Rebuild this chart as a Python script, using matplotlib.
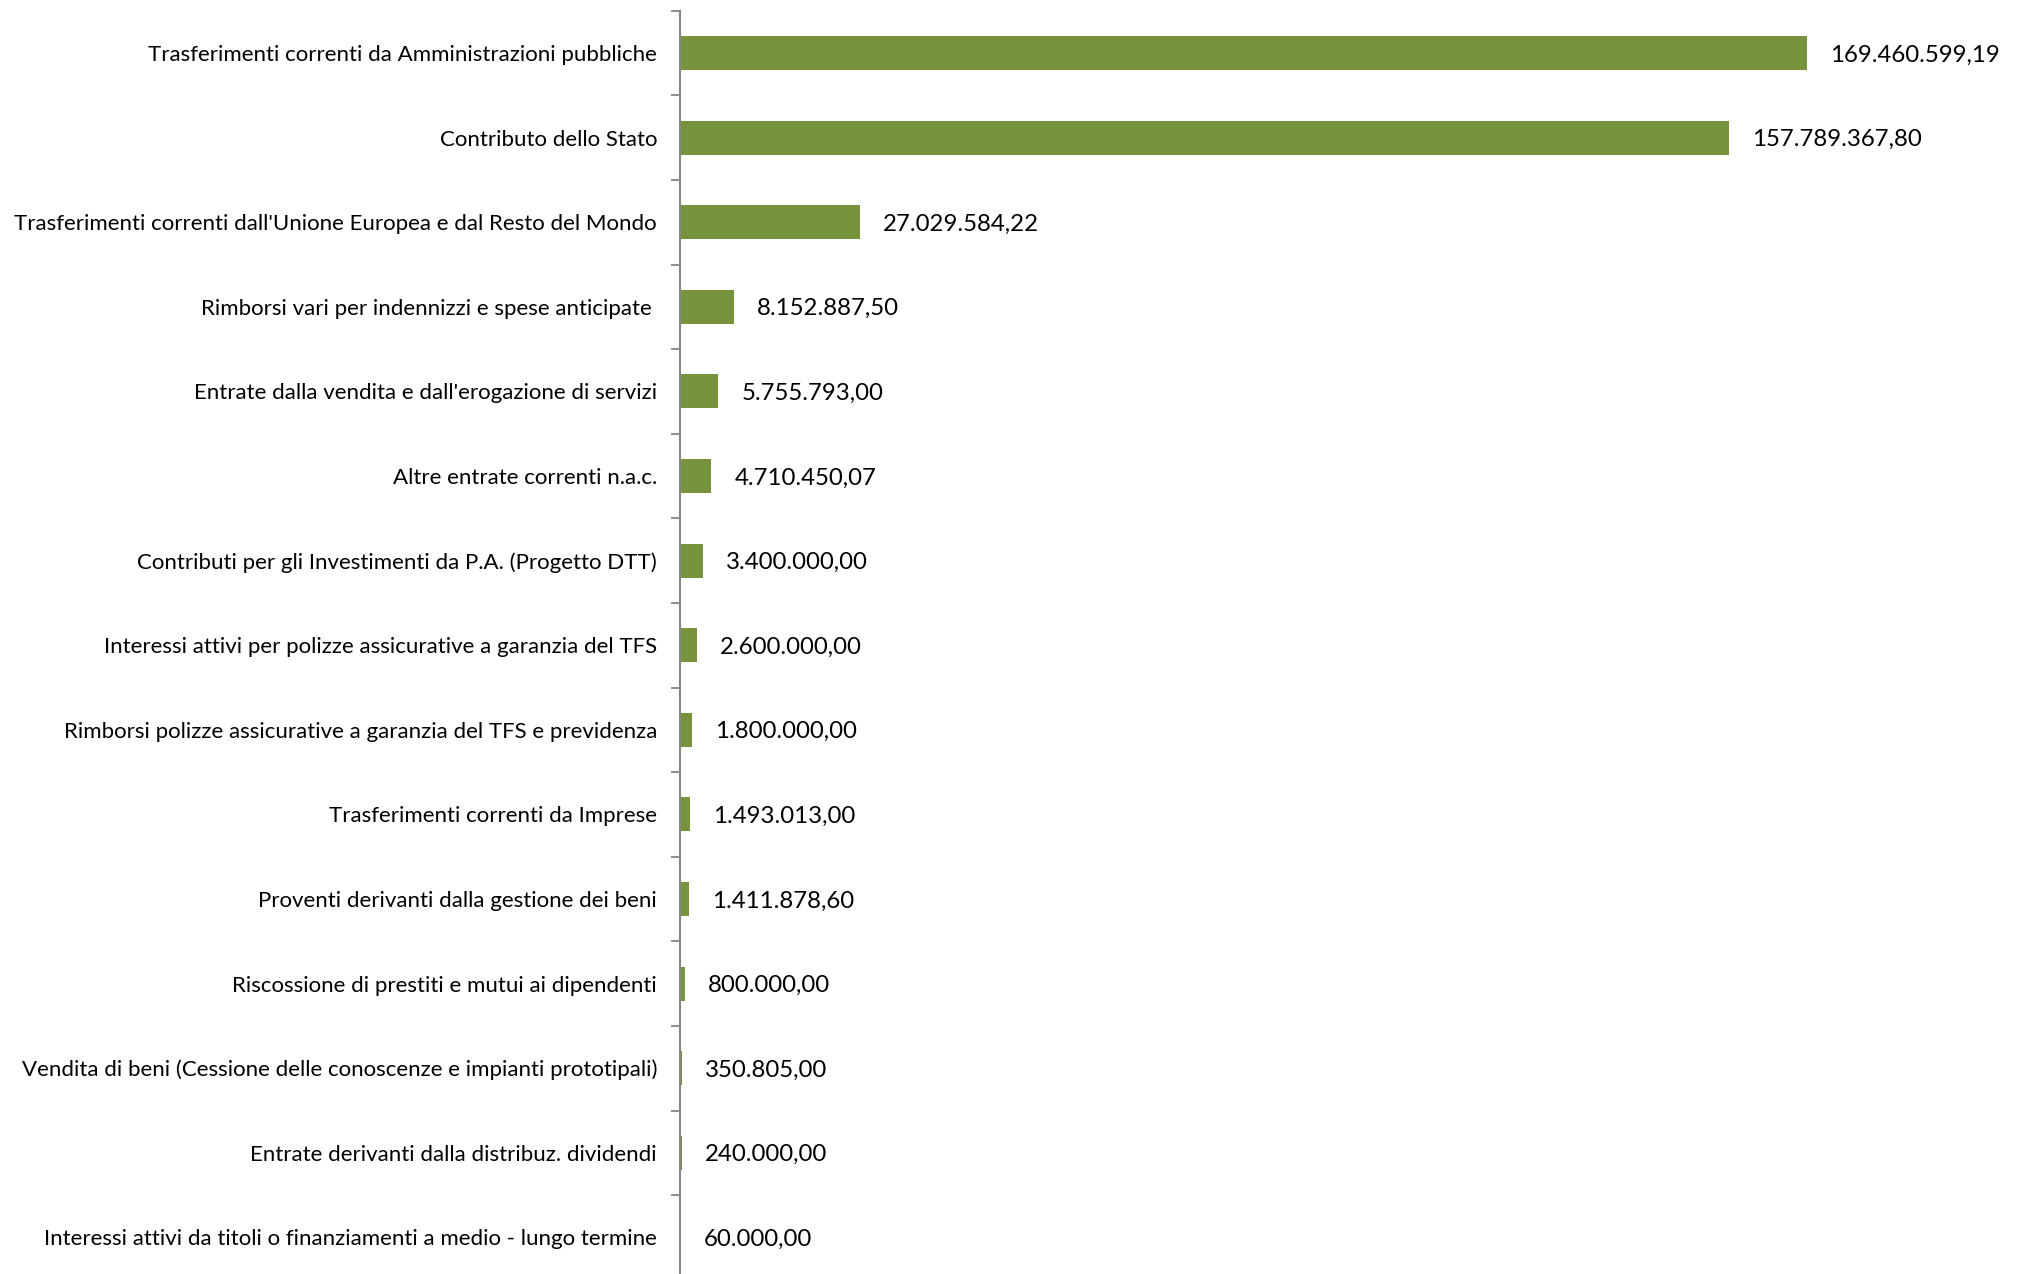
import matplotlib
matplotlib.use("Agg")
import matplotlib.pyplot as plt
import numpy as np

categories = [
    "Trasferimenti correnti da Amministrazioni pubbliche",
    "Contributo dello Stato",
    "Trasferimenti correnti dall'Unione Europea e dal Resto del Mondo",
    "Rimborsi vari per indennizzi e spese anticipate ",
    "Entrate dalla vendita e dall'erogazione di servizi",
    "Altre entrate correnti n.a.c.",
    "Contributi per gli Investimenti da P.A. (Progetto DTT)",
    "Interessi attivi per polizze assicurative a garanzia del TFS",
    "Rimborsi polizze assicurative a garanzia del TFS e previdenza",
    "Trasferimenti correnti da Imprese",
    "Proventi derivanti dalla gestione dei beni",
    "Riscossione di prestiti e mutui ai dipendenti",
    "Vendita di beni (Cessione delle conoscenze e impianti prototipali)",
    "Entrate derivanti dalla distribuz. dividendi",
    "Interessi attivi da titoli o finanziamenti a medio - lungo termine",
]
values = [
    169460599.19, 157789367.80, 27029584.22, 8152887.50, 5755793.00,
    4710450.07, 3400000.00, 2600000.00, 1800000.00, 1493013.00,
    1411878.60, 800000.00, 350805.00, 240000.00, 60000.00,
]

def fmt_it(v):
    s = f"{v:,.2f}"
    return s.replace(",", "X").replace(".", ",").replace("X", ".")

W, H = 2024, 1274
DPI = 100
fig = plt.figure(figsize=(W / DPI, H / DPI), dpi=DPI)
fig.patch.set_facecolor("white")

left = 680 / W
right = 2020 / W
top_px, bot_px = 10.7, 1279.7
ax = fig.add_axes([left, 1 - bot_px / H, right - left, (bot_px - top_px) / H])

font = ["Lato", "DejaVu Sans"]
bar_color = "#77933C"
axis_color = "#868686"

y = np.arange(len(categories))
ax.barh(y, values, height=0.40, color=bar_color, edgecolor="none", zorder=2)

ax.set_xlim(0, 201.5e6)
ax.set_ylim(len(categories) - 0.5, -0.5)

for yi, v in zip(y, values):
    ax.annotate(fmt_it(v), xy=(v, yi), xytext=(23, -2), textcoords="offset pixels",
                ha="left", va="center", fontsize=17.3, family=font, color="#000000")

ax.set_yticks(y)
ax.set_yticklabels(categories, family=font, fontsize=16.0, color="#000000")
ax.tick_params(axis="y", which="major", length=0, pad=16.5)
ax.set_yticks(np.arange(-0.5, len(categories) + 0.5, 1), minor=True)
ax.tick_params(axis="y", which="minor", length=6.5, width=1.3, color=axis_color, direction="out")

ax.set_xticks([])
for s in ["top", "right", "bottom"]:
    ax.spines[s].set_visible(False)
ax.spines["left"].set_color(axis_color)
ax.spines["left"].set_linewidth(1.5)
ax.set_facecolor("none")

fig.savefig("out.png", dpi=DPI, facecolor="white")
